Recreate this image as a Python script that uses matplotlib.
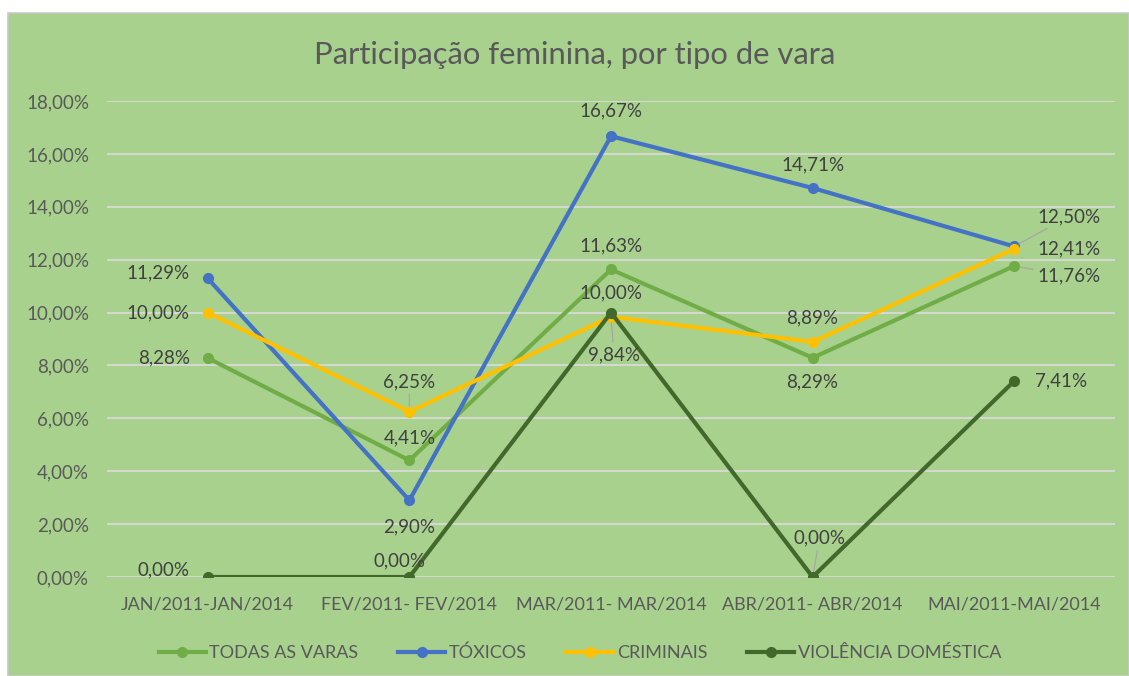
import matplotlib.pyplot as plt
from matplotlib.patches import Rectangle

# dados
periodos = ['JAN/2011-JAN/2014', 'FEV/2011- FEV/2014', 'MAR/2011- MAR/2014',
            'ABR/2011- ABR/2014', 'MAI/2011-MAI/2014']
todas = [8.28, 4.41, 11.63, 8.29, 11.76]
toxicos = [11.29, 2.90, 16.67, 14.71, 12.50]
criminais = [10.00, 6.25, 9.84, 8.89, 12.41]
violencia = [0.00, 0.00, 10.00, 0.00, 7.41]

plt.rcParams['font.family'] = ['Lato', 'DejaVu Sans']
TXT = '#595959'

W, H = 1129, 676
fig = plt.figure(figsize=(W / 100, H / 100), dpi=100, facecolor='white')
# fundo verde do grafico
fig.patches.append(Rectangle((8 / W, 0), 1 - 8 / W, 1 - 13 / H, transform=fig.transFigure,
                             facecolor='#A9D18E', edgecolor='#C8C8C8', linewidth=1.2, zorder=-10))

ax = fig.add_axes([107 / W, 99 / H, 1008 / W, 476 / H])
ax.set_zorder(2)
ax.set_facecolor('none')
x = list(range(len(periodos)))

# (dx, dy, alinhamento, linha guia) em pixels
series = [
    ('TODAS AS VARAS', todas, '#70AD47',
     [(-18, 0, 'right', 0), (0, 23, 'center', 0), (0, 24, 'center', 0), (0, -24, 'center', 0),
      (23, -10, 'left', 1)]),
    ('TÓXICOS', toxicos, '#4472C4',
     [(-18, 6, 'right', 0), (0, -27, 'center', 0), (0, 25, 'center', 0), (0, 23, 'center', 0),
      (23, 30, 'left', 1)]),
    ('CRIMINAIS', criminais, '#FFC000',
     [(-18, 0, 'right', 0), (0, 30, 'center', 1), (3, -38, 'center', 1), (0, 24, 'center', 0),
      (23, 0, 'left', 0)]),
    ('VIOLÊNCIA DOMÉSTICA', violencia, '#43682B',
     [(-18, 7, 'right', 0), (-10, 16, 'center', 0), (0, 20, 'center', 0), (7, 39, 'center', 1),
      (21, 0, 'left', 0)]),
]

for nome, vals, cor, offs in series:
    ax.plot(x, vals, '-o', color=cor, lw=3, ms=7, label=nome)
    for xi, v, (dx, dy, ha, guia) in zip(x, vals, offs):
        seta = dict(arrowstyle='-', color='#A6A6A6', lw=0.9, shrinkA=1, shrinkB=4) if guia else None
        ax.annotate(f'{v:.2f}%'.replace('.', ','), (xi, v), xytext=(dx, dy),
                    textcoords='offset pixels', ha=ha, va='center',
                    fontsize=13.5, color='#404040', zorder=5, arrowprops=seta)

ax.set_xlim(-0.5, 4.5)
ax.set_ylim(0, 18)
ax.set_yticks(range(0, 19, 2))
ax.set_yticklabels([f'{t},00%' for t in range(0, 19, 2)])
ax.set_xticks(x)
ax.set_xticklabels(periodos)
ax.tick_params(axis='x', length=0, labelsize=13, labelcolor=TXT, pad=14)
ax.tick_params(axis='y', length=0, labelsize=13.5, labelcolor=TXT, pad=13)
ax.grid(axis='y', color='#D9D9D9', lw=1.3)
ax.set_axisbelow(True)
for s in ax.spines.values():
    s.set_visible(False)

fig.text(575 / W, 1 - 55 / H, 'Participação feminina, por tipo de vara',
         ha='center', va='center', fontsize=22.3, color=TXT)

fig.legend(loc='center', bbox_to_anchor=(580 / W, 1 - 653 / H), ncol=4, frameon=False,
           fontsize=13, labelcolor=TXT, handlelength=2.6, handletextpad=0.2, columnspacing=2.2)

plt.savefig('out.png', dpi=100)
plt.close()
